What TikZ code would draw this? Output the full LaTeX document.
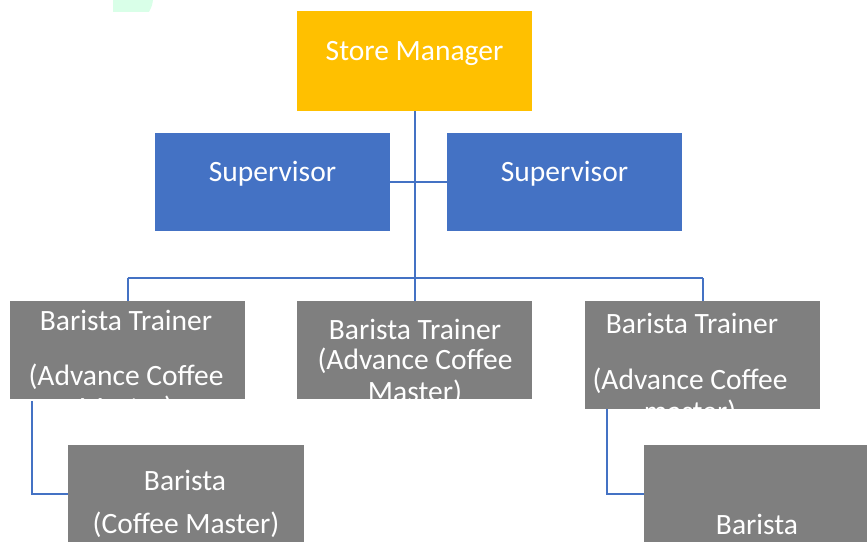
\documentclass[tikz,border=0pt]{standalone}
\usepackage{fontspec}
\setmainfont{Carlito}
\usepackage{xcolor}
\usetikzlibrary{positioning,calc}

\definecolor{mgrgold}{RGB}{255,192,0}
\definecolor{supblue}{RGB}{68,114,196}
\definecolor{linkblue}{RGB}{68,114,196}
\definecolor{boxgrey}{RGB}{127,127,127}

\tikzset{
  box/.style={rectangle, inner sep=0pt, minimum width=235pt, minimum height=98pt},
  mgr/.style={box, fill=mgrgold, minimum height=100pt},
  sup/.style={box, fill=supblue},
  trainer/.style={box, fill=boxgrey},
  barista/.style={box, fill=boxgrey, minimum width=236pt},
  lbl/.style={text=white, font=\fontsize{29.5}{35}\selectfont, inner sep=0pt},
  link/.style={draw=linkblue, line width=2pt}
}

\begin{document}
\begin{tikzpicture}[x=1pt,y=1pt]
    \useasboundingbox (0,0) rectangle (867,541);
    \fill[green!60!cyan!15] (113,529) -- (113,541) -- (153,541) .. controls (152,535) .. (149,529) -- cycle;

    % boxes
    \node[mgr] (sm) at (414.5,480) {};
    \node[sup] (sup1) at (272.5,359) {};
    \node[sup] (sup2) at (564.5,359) {};
    \node[trainer] (t1) at (127.5,191) {};
    \node[trainer] (t2) at (414.5,191) {};
    \node[trainer, minimum height=108pt] (t3) at (702.5,186) {};
    \node[barista] (b1) at (186,47) {};
    \node[barista] (b2) at (762,47) {};

    \node[lbl] at ([yshift=8pt]sm.center) {Store Manager};
    \node[lbl] at ([yshift=8pt]sup1.center) {Supervisor};
    \node[lbl] at ([yshift=8pt]sup2.center) {Supervisor};

    % trainer texts, cut off at the box edge
    \begin{scope}
        \clip (t1.south west) rectangle (t1.north east);
        \node[lbl] at (126,221) {Barista Trainer};
        \node[lbl] at (126,164) {(Advance Coffee};
        \node[lbl] at (126,132) {Master)};
    \end{scope}
    \begin{scope}
        \clip (t2.south west) rectangle (t2.north east);
        \node[lbl] at (415,212) {Barista Trainer};
        \node[lbl] at (415,180) {(Advance Coffee};
        \node[lbl] at (415,148) {Master)};
    \end{scope}
    \begin{scope}
        \clip (t3.south west) rectangle (t3.north east);
        \node[lbl] at (692,218) {Barista Trainer};
        \node[lbl] at (690,160) {(Advance Coffee};
        \node[lbl] at (690,128) {master)};
    \end{scope}

    \node[lbl] at (185,61) {Barista};
    \node[lbl] at (186,16.5) {(Coffee Master)};
    \node[lbl] at (757,17) {Barista};

    % connectors
    \coordinate (bus) at ($(sm.south)+(0,-167)$);
    \draw[link] (sm.south) -- (bus);
    \draw[link] (sup1.east) -- (sup2.west);
    \draw[link] (t1.north |- bus) -- (t3.north |- bus);
    \draw[link] (t1.north |- bus) -- (t1.north);
    \draw[link] (t2.north |- bus) -- (t2.north);
    \draw[link] (t3.north |- bus) -- (t3.north);
    \draw[link] ([xshift=-95.5pt,yshift=-2pt]t1.south) |- (b1.west);
    \draw[link] ([xshift=-95.5pt]t3.south) |- (b2.west);
\end{tikzpicture}
\end{document}
